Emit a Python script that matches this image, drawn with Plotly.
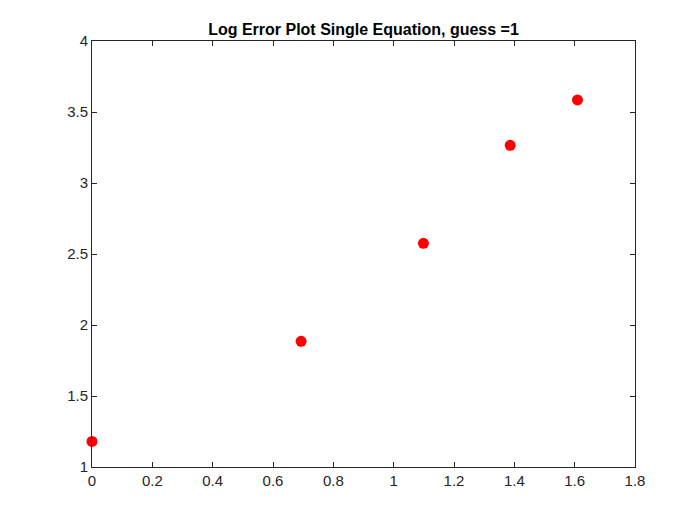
import plotly.graph_objects as go

x_vals = [0.0, 0.6931, 1.0986, 1.3863, 1.6094]
y_vals = [1.18, 1.885, 2.575, 3.265, 3.585]

fig = go.Figure(go.Scatter(x=x_vals, y=y_vals, mode="markers",
                           marker=dict(color="red", size=11), cliponaxis=False))
ax = dict(showgrid=False, zeroline=False, showline=True, linecolor="#262626", linewidth=1,
          mirror="ticks", ticks="inside", ticklen=5, tickcolor="#262626",
          tickfont=dict(family="Liberation Sans, Arial", size=15, color="#262626"))
fig.update_xaxes(range=[0, 1.8], dtick=0.2, tickformat="~g", **ax)
fig.update_yaxes(range=[1, 4], dtick=0.5, tickformat="~g", **ax)
fig.update_layout(
    width=700, height=525, plot_bgcolor="white", paper_bgcolor="white",
    margin=dict(l=84, r=73, t=33, b=66), showlegend=False,
    title=dict(text="<b>Log Error Plot Single Equation, guess =1</b>", x=0.5, xref="paper",
               y=1, yref="paper", yanchor="bottom", pad=dict(b=6),
               font=dict(family="Liberation Sans, Arial", size=16, color="black")))
fig.write_html("out.html")
